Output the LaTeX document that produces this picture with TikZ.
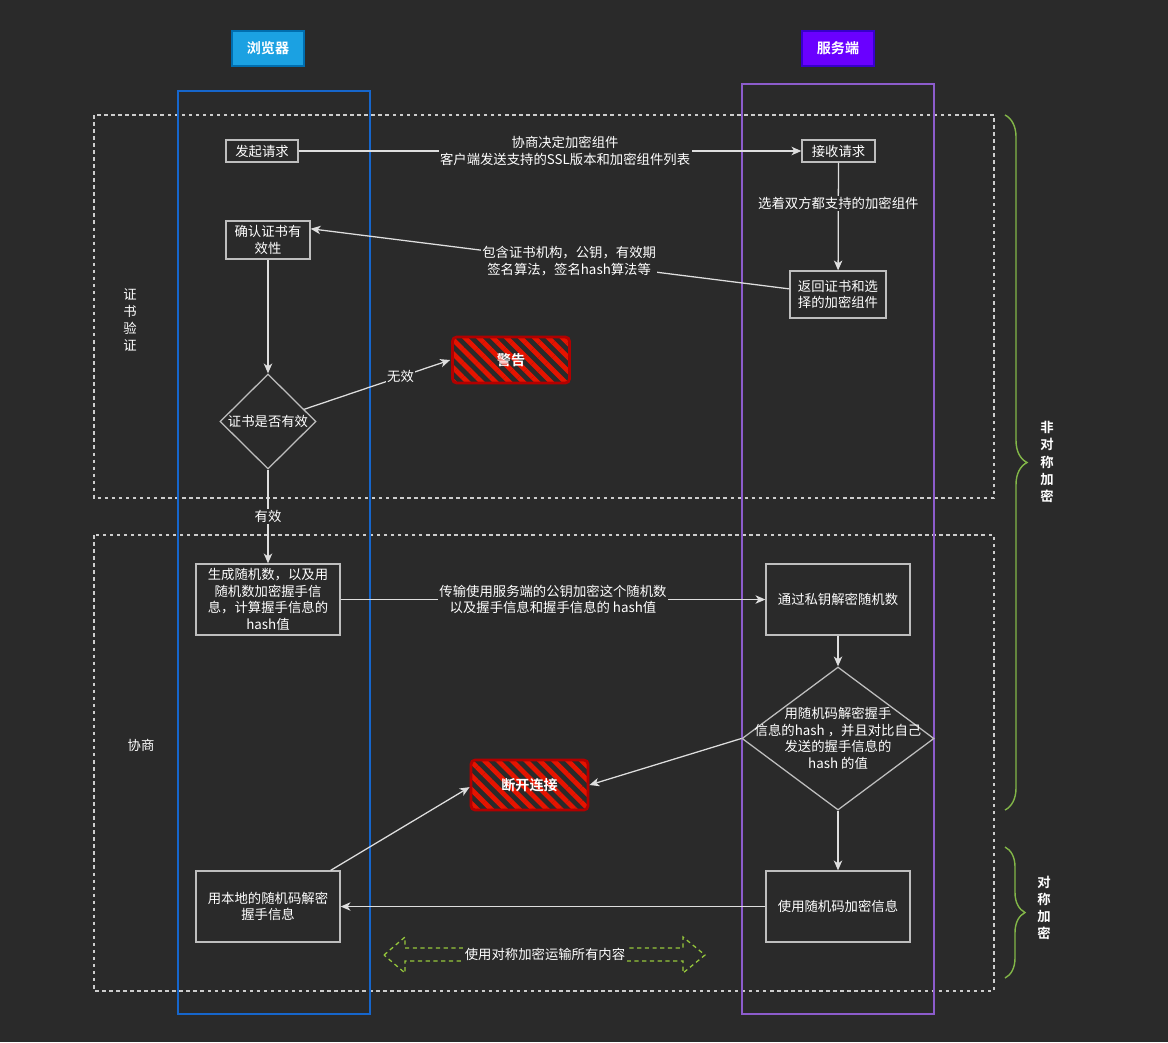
\documentclass[tikz,border=0pt]{standalone}
\usepackage{fontspec}
\setmainfont{Noto Sans CJK SC}[BoldFont={Noto Sans CJK SC Bold}]
\usetikzlibrary{shapes.geometric,arrows.meta,positioning,calc,patterns.meta,decorations.pathreplacing}
\definecolor{bg}{HTML}{2A2A2A}
\definecolor{boxline}{RGB}{190,190,190}
\definecolor{arrowline}{RGB}{222,222,222}
\definecolor{dashline}{RGB}{205,205,205}
\definecolor{headblue}{HTML}{1BA1E2}
\definecolor{headblueline}{HTML}{006EAF}
\definecolor{headpurple}{HTML}{6A00FF}
\definecolor{headpurpleline}{HTML}{3700CC}
\definecolor{laneblue}{RGB}{22,102,204}
\definecolor{lanepurple}{RGB}{140,92,204}
\definecolor{alarmred}{HTML}{E51400}
\definecolor{alarmdark}{HTML}{B20000}
\definecolor{bracegreen}{RGB}{130,182,72}
\definecolor{transfergreen}{RGB}{150,200,60}

\begin{document}
\begin{tikzpicture}[
        x=0.025cm,y=-0.025cm,
        every node/.style={font=\fontsize{9.5}{11.8}\selectfont,text=white},
        box/.style={draw=boxline,line width=0.9pt,align=center,inner sep=1pt},
        head/.style={line width=1pt,minimum width=1.8cm,minimum height=0.875cm,font=\fontsize{10}{12}\selectfont\bfseries},
        dia/.style={diamond,draw=boxline,line width=0.9pt,inner sep=0pt},
        hatch/.style={draw=alarmdark,line width=2pt,rounded corners=3pt,minimum width=2.925cm,
            pattern={Lines[angle=-45,distance=7pt,line width=3.4pt]},pattern color=alarmred,
            font=\fontsize{10}{12}\selectfont\bfseries},
        arrow/.style={-{Stealth[length=7pt,width=6pt,inset=2pt]},draw=arrowline,line width=0.9pt},
        elabel/.style={fill=bg,inner sep=1pt,align=center},
        zone/.style={draw=dashline,line width=1.1pt,dash pattern=on 2.5pt off 2.5pt},
        side/.style={align=center,font=\fontsize{9.5}{12.2}\selectfont},
        brace/.style={draw=bracegreen,line width=1pt,decorate,decoration={brace,amplitude=0.55cm}}
    ]
        % Background
        \useasboundingbox[fill=bg] (0,0) rectangle (1168,1042);

        % Zones
        \draw[zone] (94,115) rectangle (994,498);
        \draw[zone] (94,535) rectangle (994,991);
        \node[side] (zonecert) at (130,320) {证\\书\\验\\证};
        \node[side] (zonenego) at (141,745) {协商};

        % Lanes
        \draw[draw=laneblue,line width=1.1pt] (178,91) rectangle (370,1014);
        \draw[draw=lanepurple,line width=1.1pt] (742,84) rectangle (934,1014);

        % Headers
        \node[head,fill=headblue,draw=headblueline] (browser) at (268,48.5) {浏览器};
        \node[head,fill=headpurple,draw=headpurpleline] (server) at (838,48.5) {服务端};

        % Certificate check
        \node[box,minimum width=1.8cm,minimum height=0.55cm] (request) at (262,151) {发起请求};
        \node[box,minimum width=1.825cm,minimum height=0.55cm] (receive) at (838.5,151) {接收请求};
        \node[box,minimum width=2.4cm,minimum height=1.175cm] (reply) at (838,294.5) {返回证书和选\\择的加密组件};
        \node[box,minimum width=2.1cm,minimum height=0.95cm] (verify) at (268,240) {确认证书有\\效性};
        \node[dia,minimum width=2.4cm,minimum height=2.375cm,label={center:证书是否有效}] (valid) at (268,421.5) {};
        \node[hatch,minimum height=1.15cm] (warn) at (511,360) {警告};

        % Negotiation
        \node[box,minimum width=3.6cm,minimum height=1.775cm] (genrand) at (268,599.5) {生成随机数，以及用\\随机数加密握手信\\息，计算握手信息的\\hash值};
        \node[box,minimum width=3.6cm,minimum height=1.775cm] (decrypt) at (838,599.5) {通过私钥解密随机数};
        \node[dia,minimum width=4.8cm,minimum height=3.575cm,
            label={[align=center,font=\fontsize{9.5}{11.8}\selectfont]center:用随机码解密握手\\信息的hash ，并且对比自己\\发送的握手信息的\\hash 的值}] (compare) at (838,738.5) {};
        \node[hatch,minimum height=1.25cm] (cut) at (529.5,785) {断开连接};
        \node[box,minimum width=3.6cm,minimum height=1.775cm] (encmsg) at (838,906.5) {使用随机码加密信息};
        \node[box,minimum width=3.6cm,minimum height=1.775cm] (decmsg) at (268,906.5) {用本地的随机码解密\\握手信息};

        % Arrows
        \draw[arrow] (request) -- node[elabel,pos=0.53] {协商决定加密组件\\客户端发送支持的SSL版本和加密组件列表} (receive);
        \draw[arrow] (receive) -- node[elabel,pos=0.38] {选着双方都支持的加密组件} (reply);
        \draw[arrow] ([yshift=4pt]reply.west) -- node[elabel,pos=0.46] {包含证书机构，公钥，有效期\\签名算法，签名hash算法等} ([yshift=8pt]verify.east);
        \draw[arrow] (verify) -- (valid);
        \draw[arrow] (valid) -- node[elabel,pos=0.66] {无效} (warn.west);
        \draw[arrow] (valid) -- node[elabel] {有效} (genrand);
        \draw[arrow] (genrand) -- node[elabel,pos=0.5] {传输使用服务端的公钥加密这个随机数\\以及握手信息和握手信息的 hash值} (decrypt);
        \draw[arrow] (decrypt) -- (compare);
        \draw[arrow] (compare.west) -- (cut.east);
        \draw[arrow] (compare) -- (encmsg);
        \draw[arrow] (encmsg) -- (decmsg);
        \draw[arrow] ($(decmsg.north east)+(-10,0)$) -- ([yshift=-1.5pt]cut.west);

        % Symmetric transfer
        \draw[draw=transfergreen,line width=0.9pt,dash pattern=on 3pt off 2.5pt]
            (384,955) -- (405,937) -- (405,948) -- (683,948) -- (683,937) -- (705,955)
            -- (683,973) -- (683,961) -- (405,961) -- (405,973) -- cycle;
        \node[fill=bg,inner sep=1pt] (transfer) at (545,954) {使用对称加密运输所有内容};

        % Braces
        \coordinate (asymtop) at (1005,115);
        \coordinate (asymbot) at (1005,810);
        \coordinate (symtop) at (1005,847);
        \coordinate (symbot) at (1005,978);
        \draw[brace] (asymtop) -- (asymbot);
        \draw[brace,decoration={brace,amplitude=0.5cm}] (symtop) -- (symbot);
        \node[side,font=\fontsize{9.5}{12.2}\selectfont\bfseries] (asym) at (1047,462) {非\\对\\称\\加\\密};
        \node[side,font=\fontsize{9.5}{12.2}\selectfont\bfseries] (sym) at (1044,908) {对\\称\\加\\密};
    \end{tikzpicture}
\end{document}
